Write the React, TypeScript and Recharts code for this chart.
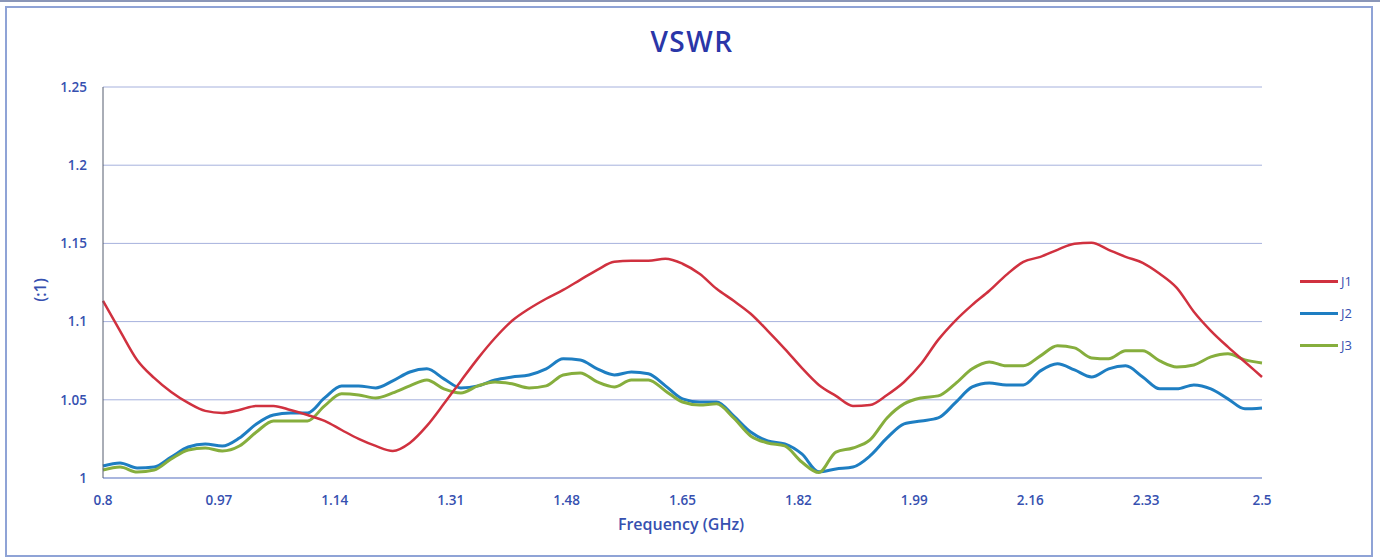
import { LineChart, Line, XAxis, YAxis, CartesianGrid } from 'recharts';

// frequency sweep (GHz)
const freqs = [
  0.8, 0.825, 0.85, 0.875, 0.9, 0.925, 0.95, 0.975, 1.0, 1.025, 1.05, 1.075, 1.1, 1.125,
  1.15, 1.175, 1.2, 1.225, 1.25, 1.275, 1.3, 1.325, 1.35, 1.375, 1.4, 1.425, 1.45, 1.475,
  1.5, 1.525, 1.55, 1.575, 1.6, 1.625, 1.65, 1.675, 1.7, 1.725, 1.75, 1.775, 1.8, 1.825,
  1.85, 1.875, 1.9, 1.925, 1.95, 1.975, 2.0, 2.025, 2.05, 2.075, 2.1, 2.125, 2.15, 2.175,
  2.2, 2.225, 2.25, 2.275, 2.3, 2.325, 2.35, 2.375, 2.4, 2.425, 2.45, 2.475, 2.5,
];

const j1 = [
  1.1133, 1.0941, 1.0755, 1.064, 1.055, 1.048, 1.0429, 1.0416, 1.0435, 1.0461, 1.0461, 1.0435,
  1.0403, 1.0365, 1.0307, 1.025, 1.0205, 1.0173, 1.0224, 1.0333, 1.0474, 1.0621, 1.0765, 1.0895,
  1.1005, 1.1082, 1.1146, 1.1203, 1.1267, 1.1331, 1.1382, 1.1389, 1.1389, 1.1402, 1.137, 1.1306,
  1.121, 1.1133, 1.105, 1.0941, 1.0826, 1.0704, 1.0595, 1.0525, 1.0461, 1.0467, 1.0531, 1.0614,
  1.073, 1.0883, 1.1005, 1.1107, 1.1197, 1.1299, 1.1382, 1.1414, 1.1459, 1.1498, 1.1504, 1.1459,
  1.1414, 1.1376, 1.1306, 1.1216, 1.1063, 1.0941, 1.0838, 1.0742, 1.0646,
];

const j2 = [
  1.0077, 1.0096, 1.0064, 1.007, 1.0134, 1.0198, 1.0218, 1.0205, 1.0256, 1.0346, 1.0403, 1.0416,
  1.0416, 1.0512, 1.0589, 1.0589, 1.0576, 1.0621, 1.0678, 1.0698, 1.0634, 1.0576, 1.0589, 1.0627,
  1.0646, 1.0659, 1.0698, 1.0762, 1.0755, 1.0698, 1.0659, 1.0678, 1.0666, 1.0589, 1.0506, 1.0486,
  1.0486, 1.0397, 1.0294, 1.0237, 1.0218, 1.0154, 1.004, 1.0058, 1.007, 1.0141, 1.0256, 1.0346,
  1.0365, 1.0384, 1.048, 1.0582, 1.0608, 1.0595, 1.0595, 1.0685, 1.073, 1.0691, 1.0646, 1.0698,
  1.0717, 1.0646, 1.057, 1.057, 1.0595, 1.057, 1.0506, 1.0442, 1.0448,
];

const j3 = [
  1.0051, 1.007, 1.0038, 1.0051, 1.0122, 1.0179, 1.0192, 1.0173, 1.0205, 1.0294, 1.0365, 1.0365,
  1.0365, 1.0461, 1.0538, 1.0531, 1.0512, 1.0544, 1.0589, 1.0627, 1.057, 1.0544, 1.0589, 1.0614,
  1.0602, 1.0576, 1.0589, 1.0659, 1.0672, 1.0614, 1.0582, 1.0627, 1.0627, 1.0557, 1.0486, 1.0467,
  1.0474, 1.0384, 1.0269, 1.0224, 1.0205, 1.0102, 1.0035, 1.0166, 1.0192, 1.0243, 1.0384, 1.0474,
  1.0512, 1.0525, 1.0602, 1.0698, 1.0742, 1.0717, 1.0717, 1.0781, 1.0845, 1.0832, 1.0768, 1.0762,
  1.0813, 1.0813, 1.0749, 1.071, 1.0723, 1.0774, 1.0794, 1.0755, 1.0736,
];

const xTicks = [0.8, 0.97, 1.14, 1.31, 1.48, 1.65, 1.82, 1.99, 2.16, 2.33, 2.5];
const yTicks = [1, 1.05, 1.1, 1.15, 1.2, 1.25];

const series = [
  { key: 'j1', name: 'J1', color: '#D0313F' },
  { key: 'j2', name: 'J2', color: '#1E7EC2' },
  { key: 'j3', name: 'J3', color: '#86AE3D' },
];

const chartData = freqs.map((f, i) => ({ f, j1: j1[i], j2: j2[i], j3: j3[i] }));

const FONT = '"Open Sans", "Liberation Sans", sans-serif';
const TEXT_BLUE = '#3650B0';

export default function App() {
  const tickStyle = { fill: TEXT_BLUE, fontSize: 13.5, fontWeight: 600, fontFamily: FONT };
  return (
    <div style={{ position: 'absolute', left: 0, top: 0, width: 1380, height: 559, background: '#fff', fontFamily: FONT }}>
      <div style={{ position: 'absolute', left: 0, top: 0, width: 1380, height: 2, background: '#8A96B8' }} />
      <div style={{ position: 'absolute', left: 5, top: 6, width: 1364, height: 547, border: '2px solid #8FA3D6' }} />

      <div style={{ position: 'absolute', left: 2, top: 22, width: 1380, textAlign: 'center', fontSize: 28, fontWeight: 600, letterSpacing: 1.5, color: '#2A36A8' }}>
        VSWR
      </div>

      <LineChart
        width={1380}
        height={559}
        data={chartData}
        margin={{ top: 87, right: 118, bottom: 51, left: 43 }}
        style={{ position: 'absolute', left: 0, top: 0 }}
      >
        <CartesianGrid vertical={false} stroke="#A6B1DD" strokeWidth={1} />
        <XAxis
          dataKey="f"
          type="number"
          domain={[0.8, 2.5]}
          ticks={xTicks}
          interval={0}
          height={30}
          tickLine={false}
          axisLine={{ stroke: '#7F93CF' }}
          tick={tickStyle}
          tickMargin={11}
        />
        <YAxis
          type="number"
          domain={[1, 1.25]}
          ticks={yTicks}
          interval={0}
          width={60}
          tickLine={false}
          axisLine={{ stroke: '#555c6e' }}
          tick={tickStyle}
          tickMargin={10}
        />
        <Line type="monotone" dataKey="j2" stroke="#1E7EC2" strokeWidth={3} dot={false} isAnimationActive={false} />
        <Line type="monotone" dataKey="j3" stroke="#86AE3D" strokeWidth={3} dot={false} isAnimationActive={false} />
        <Line type="monotone" dataKey="j1" stroke="#D0313F" strokeWidth={2.5} dot={false} isAnimationActive={false} />
      </LineChart>

      <div style={{ position: 'absolute', left: -9, top: 513, width: 1380, textAlign: 'center', fontSize: 16, fontWeight: 600, color: TEXT_BLUE }}>
        Frequency (GHz)
      </div>
      <div
        style={{
          position: 'absolute', left: 40, top: 290, transform: 'translate(-50%, -50%) rotate(-90deg)',
          fontSize: 16, fontWeight: 600, color: TEXT_BLUE,
        }}
      >
        (:1)
      </div>

      {series.map((s, i) => (
        <div key={s.key} style={{ position: 'absolute', left: 1300, top: 273 + i * 32, height: 16, display: 'flex', alignItems: 'center' }}>
          <div style={{ width: 38, height: 3, background: s.color }} />
          <span style={{ marginLeft: 3, fontSize: 13, color: TEXT_BLUE }}>{s.name}</span>
        </div>
      ))}
    </div>
  );
}
